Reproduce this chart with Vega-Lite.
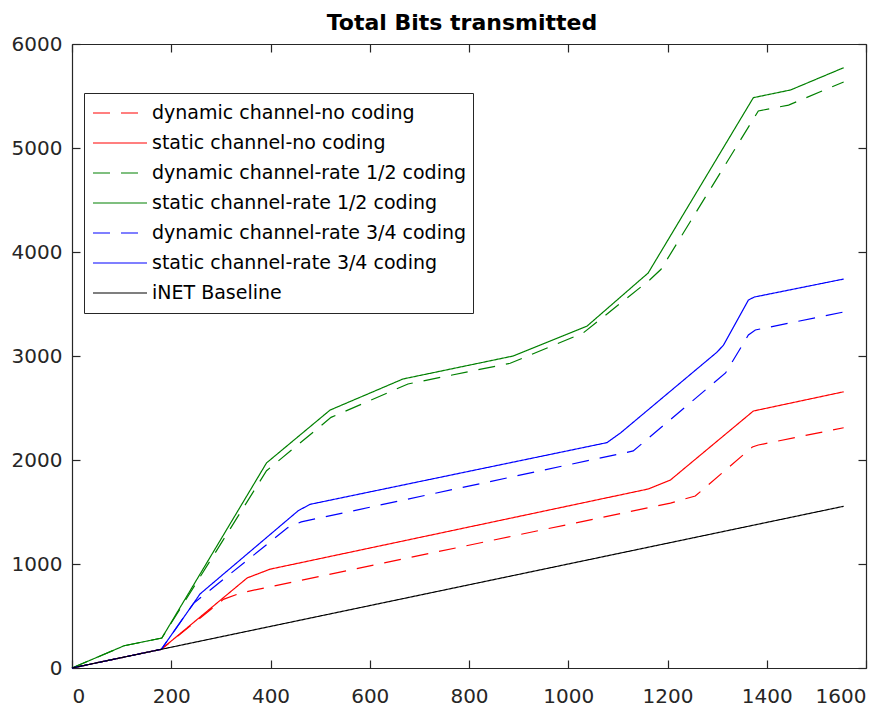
{
  "$schema": "https://vega.github.io/schema/vega-lite/v6.json",
  "width": 794,
  "height": 624,
  "autosize": {"type": "none"},
  "padding": {"left": 72, "top": 44, "right": 25, "bottom": 39},
  "background": "white",
  "title": {"text": "Total Bits transmitted", "font": "DejaVu Sans", "fontSize": 22, "fontWeight": "bold", "color": "#000000", "anchor": "middle", "offset": -1, "dx": -7},
  "config": {
    "view": {"stroke": null},
    "axis": {"labelFont": "DejaVu Sans", "labelFontSize": 20, "labelColor": "#262626", "domainColor": "#262626", "tickColor": "#262626", "domainWidth": 1.2, "tickWidth": 1.2, "grid": false, "title": null, "format": "d"}
  },
  "data": {"values": [
    {"series": "dynamic channel-no coding", "x": 0, "y": 0},
    {"series": "dynamic channel-no coding", "x": 180, "y": 180},
    {"series": "dynamic channel-no coding", "x": 305, "y": 660},
    {"series": "dynamic channel-no coding", "x": 340, "y": 722},
    {"series": "dynamic channel-no coding", "x": 1206, "y": 1586},
    {"series": "dynamic channel-no coding", "x": 1256, "y": 1654},
    {"series": "dynamic channel-no coding", "x": 1371, "y": 2125},
    {"series": "dynamic channel-no coding", "x": 1383, "y": 2144},
    {"series": "dynamic channel-no coding", "x": 1555, "y": 2310},
    {"series": "static channel-no coding", "x": 0, "y": 0},
    {"series": "static channel-no coding", "x": 180, "y": 180},
    {"series": "static channel-no coding", "x": 353, "y": 866},
    {"series": "static channel-no coding", "x": 399, "y": 950},
    {"series": "static channel-no coding", "x": 1161, "y": 1721},
    {"series": "static channel-no coding", "x": 1206, "y": 1808},
    {"series": "static channel-no coding", "x": 1373, "y": 2471},
    {"series": "static channel-no coding", "x": 1555, "y": 2656},
    {"series": "dynamic channel-rate 1/2 coding", "x": 0, "y": 0},
    {"series": "dynamic channel-rate 1/2 coding", "x": 105, "y": 214},
    {"series": "dynamic channel-rate 1/2 coding", "x": 181, "y": 288},
    {"series": "dynamic channel-rate 1/2 coding", "x": 392, "y": 1897},
    {"series": "dynamic channel-rate 1/2 coding", "x": 522, "y": 2410},
    {"series": "dynamic channel-rate 1/2 coding", "x": 677, "y": 2731},
    {"series": "dynamic channel-rate 1/2 coding", "x": 883, "y": 2930},
    {"series": "dynamic channel-rate 1/2 coding", "x": 1030, "y": 3221},
    {"series": "dynamic channel-rate 1/2 coding", "x": 1164, "y": 3731},
    {"series": "dynamic channel-rate 1/2 coding", "x": 1187, "y": 3834},
    {"series": "dynamic channel-rate 1/2 coding", "x": 1383, "y": 5356},
    {"series": "dynamic channel-rate 1/2 coding", "x": 1444, "y": 5413},
    {"series": "dynamic channel-rate 1/2 coding", "x": 1555, "y": 5635},
    {"series": "static channel-rate 1/2 coding", "x": 0, "y": 0},
    {"series": "static channel-rate 1/2 coding", "x": 105, "y": 214},
    {"series": "static channel-rate 1/2 coding", "x": 181, "y": 288},
    {"series": "static channel-rate 1/2 coding", "x": 392, "y": 1972},
    {"series": "static channel-rate 1/2 coding", "x": 520, "y": 2480},
    {"series": "static channel-rate 1/2 coding", "x": 667, "y": 2779},
    {"series": "static channel-rate 1/2 coding", "x": 889, "y": 3000},
    {"series": "static channel-rate 1/2 coding", "x": 1038, "y": 3288},
    {"series": "static channel-rate 1/2 coding", "x": 1161, "y": 3798},
    {"series": "static channel-rate 1/2 coding", "x": 1373, "y": 5484},
    {"series": "static channel-rate 1/2 coding", "x": 1448, "y": 5558},
    {"series": "static channel-rate 1/2 coding", "x": 1555, "y": 5772},
    {"series": "dynamic channel-rate 3/4 coding", "x": 0, "y": 0},
    {"series": "dynamic channel-rate 3/4 coding", "x": 180, "y": 180},
    {"series": "dynamic channel-rate 3/4 coding", "x": 245, "y": 622},
    {"series": "dynamic channel-rate 3/4 coding", "x": 435, "y": 1350},
    {"series": "dynamic channel-rate 3/4 coding", "x": 462, "y": 1405},
    {"series": "dynamic channel-rate 3/4 coding", "x": 1131, "y": 2087},
    {"series": "dynamic channel-rate 3/4 coding", "x": 1317, "y": 2837},
    {"series": "dynamic channel-rate 3/4 coding", "x": 1363, "y": 3202},
    {"series": "dynamic channel-rate 3/4 coding", "x": 1377, "y": 3250},
    {"series": "dynamic channel-rate 3/4 coding", "x": 1555, "y": 3423},
    {"series": "static channel-rate 3/4 coding", "x": 0, "y": 0},
    {"series": "static channel-rate 3/4 coding", "x": 180, "y": 180},
    {"series": "static channel-rate 3/4 coding", "x": 245, "y": 622},
    {"series": "static channel-rate 3/4 coding", "x": 258, "y": 712},
    {"series": "static channel-rate 3/4 coding", "x": 456, "y": 1513},
    {"series": "static channel-rate 3/4 coding", "x": 480, "y": 1574},
    {"series": "static channel-rate 3/4 coding", "x": 1078, "y": 2167},
    {"series": "static channel-rate 3/4 coding", "x": 1105, "y": 2259},
    {"series": "static channel-rate 3/4 coding", "x": 1300, "y": 3038},
    {"series": "static channel-rate 3/4 coding", "x": 1313, "y": 3106},
    {"series": "static channel-rate 3/4 coding", "x": 1363, "y": 3538},
    {"series": "static channel-rate 3/4 coding", "x": 1375, "y": 3567},
    {"series": "static channel-rate 3/4 coding", "x": 1555, "y": 3740},
    {"series": "iNET Baseline", "x": 0, "y": 0},
    {"series": "iNET Baseline", "x": 180, "y": 180},
    {"series": "iNET Baseline", "x": 1555, "y": 1555}
  ]},
  "layer": [
    {
      "mark": {"type": "line", "strokeWidth": 1.2},
      "encoding": {
        "x": {"field": "x", "type": "quantitative", "scale": {"domain": [0, 1600], "nice": false, "zero": false},
              "axis": {"orient": "bottom", "values": [0, 200, 400, 600, 800, 1000, 1200, 1400, 1600], "tickSize": -8, "labelPadding": 26}},
        "y": {"field": "y", "type": "quantitative", "scale": {"domain": [0, 6000], "nice": false, "zero": false},
              "axis": {"orient": "left", "values": [0, 1000, 2000, 3000, 4000, 5000, 6000], "tickSize": -8, "labelPadding": 18}},
        "color": {"field": "series", "type": "nominal",
          "scale": {"domain": ["dynamic channel-no coding", "static channel-no coding", "dynamic channel-rate 1/2 coding", "static channel-rate 1/2 coding", "dynamic channel-rate 3/4 coding", "static channel-rate 3/4 coding", "iNET Baseline"],
                    "range": ["#ff0000", "#ff0000", "#008000", "#008000", "#0000ff", "#0000ff", "#000000"]},
          "legend": {"title": null, "orient": "none", "legendX": 12, "legendY": 49, "direction": "vertical",
                     "symbolType": "stroke", "symbolSize": 2916, "symbolStrokeWidth": 1.2, "symbolOffset": 2,
                     "clipHeight": 28, "rowPadding": 2, "padding": 6, "labelOffset": 4,
                     "labelFont": "DejaVu Sans", "labelFontSize": 19, "labelColor": "#000000", "labelLimit": 0,
                     "strokeColor": "#262626", "fillColor": "#ffffff"}},
        "strokeDash": {"field": "series", "type": "nominal",
          "scale": {"domain": ["dynamic channel-no coding", "static channel-no coding", "dynamic channel-rate 1/2 coding", "static channel-rate 1/2 coding", "dynamic channel-rate 3/4 coding", "static channel-rate 3/4 coding", "iNET Baseline"],
                    "range": [[17, 11], [1, 0], [17, 11], [1, 0], [17, 11], [1, 0], [1, 0]]},
          "legend": {"title": null, "orient": "none", "legendX": 12, "legendY": 49, "direction": "vertical",
                     "symbolType": "stroke", "symbolSize": 2916, "symbolStrokeWidth": 1.2, "symbolOffset": 2,
                     "clipHeight": 28, "rowPadding": 2, "padding": 6, "labelOffset": 4,
                     "labelFont": "DejaVu Sans", "labelFontSize": 19, "labelColor": "#000000", "labelLimit": 0,
                     "strokeColor": "#262626", "fillColor": "#ffffff"}}
      }
    },
    {
      "mark": {"type": "point", "opacity": 0},
      "encoding": {
        "x": {"field": "x", "type": "quantitative", "scale": {"domain": [0, 1600], "nice": false, "zero": false},
              "axis": {"orient": "top", "values": [0, 200, 400, 600, 800, 1000, 1200, 1400, 1600], "tickSize": -8, "labels": false}},
        "y": {"field": "y", "type": "quantitative", "scale": {"domain": [0, 6000], "nice": false, "zero": false},
              "axis": {"orient": "right", "values": [0, 1000, 2000, 3000, 4000, 5000, 6000], "tickSize": -8, "labels": false}}
      }
    }
  ],
  "resolve": {"axis": {"x": "independent", "y": "independent"}}
}
